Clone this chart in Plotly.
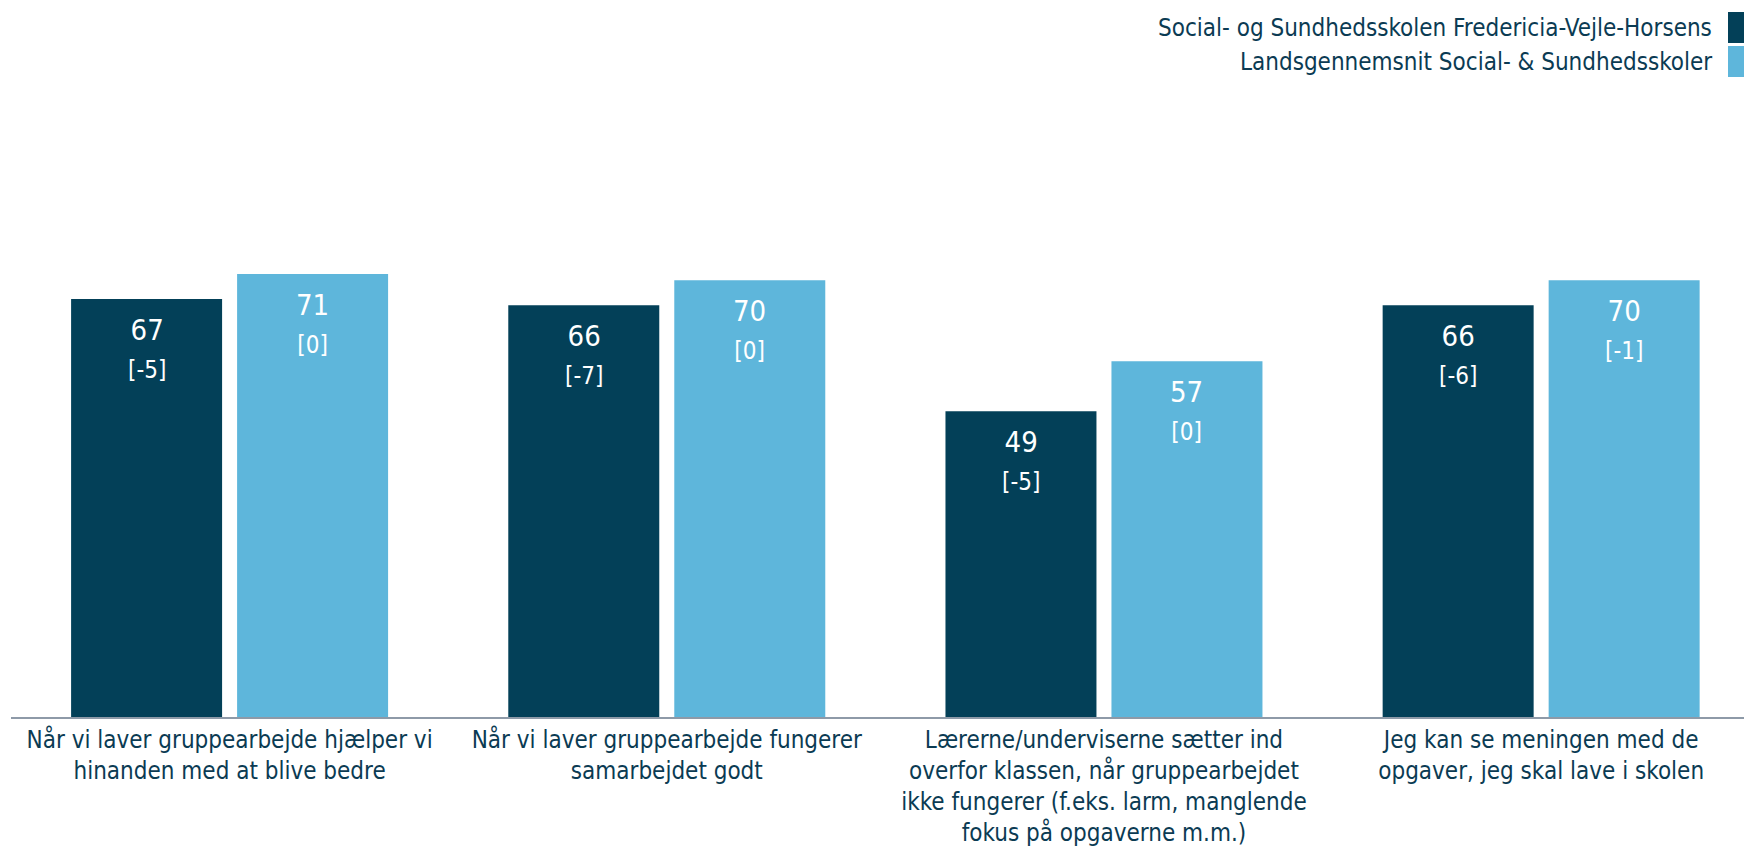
import plotly.graph_objects as go

# data
categories = [
    'Når vi laver gruppearbejde hjælper vi<br>hinanden med at blive bedre',
    'Når vi laver gruppearbejde fungerer<br>samarbejdet godt',
    'Lærerne/underviserne sætter ind<br>overfor klassen, når gruppearbejdet<br>ikke fungerer (f.eks. larm, manglende<br>fokus på opgaverne m.m.)',
    'Jeg kan se meningen med de<br>opgaver, jeg skal lave i skolen',
]
series_names = ['Social- og Sundhedsskolen Fredericia-Vejle-Horsens',
                'Landsgennemsnit Social- & Sundhedsskoler']
school_values = [67, 66, 49, 66]
school_diff = ['-5', '-7', '-5', '-6']
national_values = [71, 70, 57, 70]
national_diff = ['0', '0', '0', '-1']

colors = ['#034058', '#5eb6db']
text_color = '#0b3b53'
font_family = 'DejaVu Sans Condensed, DejaVu Sans, sans-serif'

W, H = 1744, 851
ML, MT, MB = 11, 93, 134
plot_w = W - ML
plot_h = H - MT - MB


def px_x(x):
    '''Page x pixel -> paper x.'''
    return (x - ML) / plot_w


def px_y(y):
    '''Page y pixel -> paper y.'''
    return 1 - (y - MT) / plot_h


fig = go.Figure()
for name, vals, col in zip(series_names, [school_values, national_values], colors):
    fig.add_trace(go.Bar(
        x=list(range(len(categories))), y=vals, name=name,
        marker_color=col, marker_line_width=0,
        showlegend=False, hoverinfo='skip',
    ))

# value labels sit near the top inside each bar
for shift, vals, diffs in [(-83, school_values, school_diff), (83, national_values, national_diff)]:
    for i, (v, d) in enumerate(zip(vals, diffs)):
        fig.add_annotation(
            x=i, y=v, xref='x', yref='y', xshift=shift, yshift=-12,
            text=f"{v}<br><span style='font-size:24px'>[{d}]</span>",
            showarrow=False, xanchor='center', yanchor='top',
            font=dict(size=29, color='white', family=font_family),
        )

fig.update_layout(
    width=W, height=H,
    margin=dict(l=ML, r=0, t=MT, b=MB),
    plot_bgcolor='white', paper_bgcolor='white',
    barmode='group', bargap=0.2406, bargroupgap=0.0904,
    font=dict(family=font_family, color=text_color, size=24),
)
fig.update_xaxes(
    tickmode='array', tickvals=list(range(len(categories))), ticktext=categories,
    range=[-0.5, 3.464], showline=True, linecolor='#8e9aa8', linewidth=2,
    showgrid=False, zeroline=False, ticks='', automargin=False,
    tickfont=dict(size=24, color=text_color),
)
fig.update_yaxes(range=[0, 100], visible=False)

# legend drawn at the top right, text right-aligned with the swatch after it
for i, (name, col) in enumerate(zip(series_names, colors)):
    y_top = 12 + i * 34
    fig.add_shape(type='rect', xref='paper', yref='paper',
                  x0=px_x(1728), x1=1.0,
                  y0=px_y(y_top + 31), y1=px_y(y_top),
                  fillcolor=col, line=dict(width=0))
    fig.add_annotation(text=name, xref='paper', yref='paper',
                       x=px_x(1714), y=px_y(y_top + 16),
                       xanchor='right', yanchor='middle', showarrow=False,
                       font=dict(size=24, color=text_color))

# drop the default body margin so the figure fills the window exactly
fig.write_html('out.html', config={'displayModeBar': False},
               post_script="document.body.style.margin='0';document.body.style.overflow='hidden';")
